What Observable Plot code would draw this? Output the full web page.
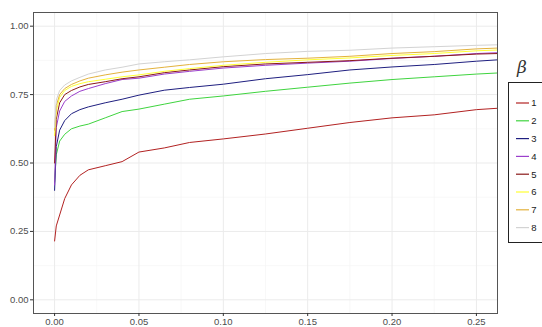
<!DOCTYPE html>
<html>
<head>
<meta charset="utf-8">
<script src="https://cdn.jsdelivr.net/npm/d3@7"></script>
<script src="https://cdn.jsdelivr.net/npm/@observablehq/plot@0.6"></script>
<style>
  body { margin: 0; background: #fff; }
  #chart { position: relative; width: 542px; height: 327px; overflow: hidden; }
</style>
</head>
<body>
<div id="chart"></div>
<script>
// False positive rate grid shared by all curves
const fpr = [0, 0.001, 0.003, 0.006, 0.01, 0.015, 0.02, 0.03, 0.04, 0.05,
             0.065, 0.08, 0.1, 0.125, 0.15, 0.175, 0.2, 0.225, 0.25, 0.2625];

// True positive rate for each beta
const beta1 = [0.215, 0.27, 0.31, 0.37, 0.42, 0.455, 0.475, 0.49, 0.505, 0.54,
               0.555, 0.575, 0.588, 0.606, 0.627, 0.648, 0.665, 0.676, 0.695, 0.70];
const beta2 = [0.43, 0.53, 0.58, 0.605, 0.625, 0.635, 0.642, 0.665, 0.688, 0.697,
               0.715, 0.733, 0.745, 0.762, 0.777, 0.792, 0.805, 0.815, 0.825, 0.829];
const beta3 = [0.40, 0.56, 0.62, 0.655, 0.68, 0.695, 0.705, 0.72, 0.733, 0.748,
               0.766, 0.776, 0.788, 0.808, 0.823, 0.84, 0.851, 0.86, 0.872, 0.877];
const beta4 = [0.42, 0.63, 0.69, 0.725, 0.745, 0.762, 0.772, 0.79, 0.805, 0.81,
               0.825, 0.835, 0.847, 0.857, 0.865, 0.872, 0.882, 0.89, 0.90, 0.903];
const beta5 = [0.50, 0.66, 0.72, 0.75, 0.765, 0.778, 0.787, 0.797, 0.808, 0.815,
               0.83, 0.84, 0.852, 0.862, 0.868, 0.874, 0.883, 0.89, 0.898, 0.90];
const beta6 = [0.60, 0.69, 0.74, 0.765, 0.78, 0.79, 0.797, 0.806, 0.815, 0.822,
               0.835, 0.845, 0.857, 0.868, 0.877, 0.884, 0.893, 0.90, 0.91, 0.913];
const beta7 = [0.62, 0.71, 0.75, 0.772, 0.787, 0.80, 0.81, 0.822, 0.832, 0.84,
               0.85, 0.86, 0.87, 0.878, 0.883, 0.89, 0.90, 0.907, 0.917, 0.92];
const beta8 = [0.63, 0.73, 0.765, 0.785, 0.80, 0.813, 0.825, 0.84, 0.85, 0.862,
               0.87, 0.877, 0.888, 0.90, 0.908, 0.912, 0.92, 0.925, 0.93, 0.932];

const betaLevels = ["1", "2", "3", "4", "5", "6", "7", "8"];
const betaColors = ["#b22222", "#3fd43f", "#1f1f80", "#9b3fcc", "#8b1a1a", "#ffff33", "#e3b23c", "#d3d3d3"];

const xTicks = [0, 0.05, 0.1, 0.15, 0.2, 0.25];
const xMinor = [0.025, 0.075, 0.125, 0.175, 0.225];
const yTicks = [0, 0.25, 0.5, 0.75, 1];
const yMinor = [0.125, 0.375, 0.625, 0.875];

const series = [beta1, beta2, beta3, beta4, beta5, beta6, beta7, beta8];
const rows = series.flatMap((vals, i) =>
  vals.map((v, j) => ({ fpr: fpr[j], tpr: v, beta: betaLevels[i] })));

const fmt = d3.format(".2f");

const chart = Plot.plot({
  width: 542,
  height: 327,
  marginLeft: 33,
  marginRight: 45,
  marginTop: 12,
  marginBottom: 14,
  style: { fontFamily: "'Liberation Sans', Arial, sans-serif", fontSize: "9.5px", color: "#4d4d4d", background: "#fff" },
  x: { domain: [-0.0125, 0.2625] },
  y: { domain: [-0.05, 1.05] },
  color: { domain: betaLevels, range: betaColors },
  marks: [
    Plot.ruleX(xMinor, { stroke: "#f4f4f4", strokeWidth: 0.6 }),
    Plot.ruleY(yMinor, { stroke: "#f4f4f4", strokeWidth: 0.6 }),
    Plot.ruleX(xTicks, { stroke: "#ebebeb", strokeWidth: 1 }),
    Plot.ruleY(yTicks, { stroke: "#ebebeb", strokeWidth: 1 }),
    Plot.line(rows, { x: "fpr", y: "tpr", z: "beta", stroke: "beta", strokeWidth: 1, clip: true }),
    Plot.frame({ stroke: "#555", strokeWidth: 1 }),
    Plot.axisX({ ticks: xTicks, tickFormat: fmt, tickSize: 3, tickPadding: 2, label: null, stroke: "#333", fill: "#4d4d4d" }),
    Plot.axisY({ ticks: yTicks, tickFormat: fmt, tickSize: 3, tickPadding: 2, label: null, stroke: "#333", fill: "#4d4d4d" })
  ]
});

document.getElementById("chart").appendChild(chart);

// Legend for beta, drawn into the same SVG using the chart's color scale
const color = chart.scale("color");
const svg = d3.select(chart);
const lg = svg.append("g").attr("font-family", "'Liberation Sans', Arial, sans-serif");
lg.append("text")
  .attr("x", 522).attr("y", 73)
  .attr("font-family", "'DejaVu Serif', serif")
  .attr("font-style", "italic")
  .attr("font-size", 17)
  .attr("fill", "#333")
  .text("β");
lg.append("rect")
  .attr("x", 508.5).attr("y", 82.5)
  .attr("width", 60).attr("height", 160)
  .attr("fill", "#fff").attr("stroke", "#222").attr("stroke-width", 1);
betaLevels.forEach((b, i) => {
  const y = 103 + i * 17.8;
  lg.append("line")
    .attr("x1", 516).attr("x2", 529).attr("y1", y).attr("y2", y)
    .attr("stroke", color.apply(b)).attr("stroke-width", 1.2);
  lg.append("text")
    .attr("x", 534).attr("y", y).attr("dy", "0.35em")
    .attr("font-size", 9.5).attr("fill", "#1a1a1a")
    .text(b);
});
</script>
</body>
</html>
